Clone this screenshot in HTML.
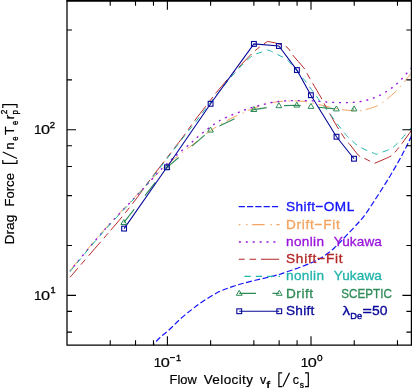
<!DOCTYPE html>
<html><head><meta charset="utf-8"><title>Drag Force vs Flow Velocity</title>
<style>
html,body{margin:0;padding:0;background:#fff;}
body{width:412px;height:388px;overflow:hidden;}
svg{display:block;will-change:transform;}
text{font-family:"Liberation Sans",sans-serif;}
</style></head><body>
<svg width="412" height="388" viewBox="0 0 412 388">
<rect x="0" y="0" width="412" height="388" fill="#ffffff"/>
<defs><clipPath id="pc"><rect x="67" y="0.8" width="345" height="344.4"/></clipPath></defs>
<g clip-path="url(#pc)" fill="none" stroke-linecap="butt" stroke-linejoin="round">
<path d="M153.3 345 C154.33 343.83 156.93 340.47 159.5 338 C162.07 335.53 165.23 333.37 168.7 330.2 C172.17 327.03 176.47 322.43 180.3 319 C184.13 315.57 188.08 312.43 191.7 309.6 C195.32 306.77 197.7 304.85 202 302 C206.3 299.15 212.33 295.1 217.5 292.5 C222.67 289.9 227.58 288.22 233 286.4 C238.42 284.58 243 283.4 250 281.6 C257 279.8 268.83 277.23 275 275.6 C281.17 273.97 282.83 273.18 287 271.8 C291.17 270.42 295.75 268.88 300 267.3 C304.25 265.72 308.92 263.88 312.5 262.3 C316.08 260.72 317.92 260.15 321.5 257.8 C325.08 255.45 329.83 251.93 334 248.2 C338.17 244.47 342.33 239.77 346.5 235.4 C350.67 231.03 355.88 225.48 359 222 C362.12 218.52 362.33 218.58 365.25 214.5 C368.17 210.42 372.54 203.62 376.5 197.5 C380.46 191.38 385.25 183.95 389 177.8 C392.75 171.65 396.33 165.33 399 160.6 C401.67 155.87 403.33 152.63 405 149.4 C406.67 146.17 408 143.22 409 141.2 C410 139.18 410.33 138.6 411 137.3 C411.67 136 412.67 134.05 413 133.4" stroke="#1414ff" stroke-width="1.2" stroke-dasharray="5.87 2.53" stroke-dashoffset="3.79"/>
<path d="M70 270.4 C75.63 263.7 91.65 243.85 103.8 230.2 C115.95 216.55 134.77 197.17 142.9 188.5 C151.03 179.83 149.93 180.95 152.6 178.2 C155.27 175.45 155.85 174.78 158.9 172 C161.95 169.22 167.85 164.07 170.9 161.5 C173.95 158.93 175.4 158.03 177.2 156.6 C179 155.17 180.02 154.23 181.7 152.9 C183.38 151.57 185.58 149.88 187.3 148.6 C189.02 147.32 188.13 148.2 192 145.2 C195.87 142.2 204.17 134.97 210.5 130.6 C216.83 126.23 224.7 121.87 230 119 C235.3 116.13 239.33 114.8 242.3 113.4 C245.27 112 245.03 111.78 247.8 110.6 C250.57 109.42 255.15 107.58 258.9 106.3 C262.65 105.02 266.4 103.73 270.3 102.9 C274.2 102.07 279.25 101.62 282.3 101.3 C285.35 100.98 285.75 101.03 288.6 101 C291.45 100.97 296.35 100.95 299.4 101.1 C302.45 101.25 303.75 101.35 306.9 101.9 C310.05 102.45 314.5 103.53 318.3 104.4 C322.1 105.27 325.83 106.25 329.7 107.1 C333.57 107.95 337.53 108.88 341.5 109.5 C345.47 110.12 350.42 110.58 353.5 110.8 C356.58 111.02 358 111 360 110.8 C362 110.6 362.67 110.4 365.5 109.6 C368.33 108.8 374.23 107.12 377 106 C379.77 104.88 380.48 104 382.1 102.9 C383.72 101.8 384.38 101.33 386.7 99.4 C389.02 97.47 393.75 93.42 396 91.3 C398.25 89.18 398.82 88.28 400.2 86.7 C401.58 85.12 402.7 83.75 404.3 81.8 C405.9 79.85 408.68 76.38 409.8 75 C410.92 73.62 410.8 73.75 411 73.5" stroke="#f4a460" stroke-width="1" stroke-dasharray="12.39 5.55 1.39 4.76" stroke-dashoffset="23.58"/>
<path d="M70 271 C75.63 264.28 91.65 244.37 103.8 230.7 C115.95 217.03 134.87 197.58 142.9 189 C150.93 180.42 149.02 182.43 152 179.2 C154.98 175.97 157.53 172.9 160.8 169.6 C164.07 166.3 168.97 161.83 171.6 159.4 C174.23 156.97 174.92 156.43 176.6 155 C178.28 153.57 179.97 152.23 181.7 150.8 C183.43 149.37 185.32 147.83 187 146.4 C188.68 144.97 189.22 144.43 191.8 142.2 C194.38 139.97 197.8 136.62 202.5 133 C207.2 129.38 213.96 123.95 220 120.5 C226.04 117.05 234.62 114.07 238.75 112.3 C242.88 110.53 242.66 110.67 244.8 109.9 C246.94 109.13 249.38 108.38 251.6 107.7 C253.82 107.02 255.93 106.4 258.1 105.8 C260.27 105.2 262.35 104.65 264.6 104.1 C266.85 103.55 269.28 102.93 271.6 102.5 C273.92 102.07 276.25 101.77 278.5 101.5 C280.75 101.23 282.88 101.05 285.1 100.9 C287.32 100.75 287.22 100.62 291.8 100.6 C296.38 100.58 307.97 100.67 312.6 100.8 C317.23 100.93 317.28 101.2 319.6 101.4 C321.92 101.6 324.18 101.83 326.5 102 C328.82 102.17 331.3 102.3 333.5 102.4 C335.7 102.5 337.5 102.57 339.7 102.6 C341.9 102.63 344.4 102.65 346.7 102.6 C349 102.55 351.2 102.48 353.5 102.3 C355.8 102.12 358.18 101.88 360.5 101.5 C362.82 101.12 365.18 100.6 367.4 100 C369.62 99.4 371.65 98.72 373.8 97.9 C375.95 97.08 378.23 96.13 380.3 95.1 C382.37 94.07 384.27 92.9 386.2 91.7 C388.13 90.5 390.12 89.23 391.9 87.9 C393.68 86.57 395.23 85.22 396.9 83.7 C398.57 82.18 400.3 80.48 401.9 78.8 C403.5 77.12 405.18 75.1 406.5 73.6 C407.82 72.1 409.05 70.67 409.8 69.8 C410.55 68.93 410.8 68.63 411 68.4" stroke="#9a14dc" stroke-width="1.35" stroke-dasharray="1.99 4.88" stroke-dashoffset="1.05"/>
<path d="M70 277.3 C76.27 270.05 100.7 241.78 107.6 233.8 C114.5 225.82 108.98 232.23 111.4 229.4 C113.82 226.57 117.68 222.27 122.1 216.8 C126.52 211.33 133.65 202.23 137.9 196.6 C142.15 190.97 143.25 188.83 147.6 183 C151.95 177.17 158.12 169.27 164 161.6 C169.88 153.93 177.72 143.93 182.9 137 C188.08 130.07 191.38 125 195.1 120 C198.82 115 202.37 110.67 205.2 107 C208.03 103.33 210.2 100.47 212.1 98 C214 95.53 213.33 96.1 216.6 92.2 C219.87 88.3 228 78.77 231.7 74.6 C235.4 70.43 235.72 70.42 238.8 67.2 C241.88 63.98 247.47 58.07 250.2 55.3 C252.93 52.53 253.63 51.98 255.2 50.6 C256.77 49.22 258.17 48.12 259.6 47 C261.03 45.88 262.47 44.83 263.8 43.9 C265.13 42.97 266.97 41.82 267.6 41.4 C269.12 41.72 273.72 42.5 276.7 43.3 C279.68 44.1 283.37 45.07 285.5 46.2 C287.63 47.33 288.32 48.65 289.5 50.1 C290.68 51.55 290.23 51.95 292.6 54.9 C294.97 57.85 301.38 64.87 303.7 67.8 C306.02 70.73 305.5 70.77 306.5 72.5 C307.5 74.23 308.68 76.42 309.7 78.2 C310.72 79.98 310.7 79.95 312.6 83.2 C314.5 86.45 319.3 94.52 321.1 97.7 C322.9 100.88 322.6 100.78 323.4 102.3 C324.2 103.82 324.85 104.92 325.9 106.8 C326.95 108.68 327.82 110.28 329.7 113.6 C331.58 116.92 334.4 122.13 337.2 126.7 C340 131.27 344.37 138.02 346.5 141 C348.63 143.98 348.03 142.25 350 144.6 C351.97 146.95 356.05 152.9 358.3 155.1 C360.55 157.3 361.62 156.82 363.5 157.8 C365.38 158.78 367.8 160.07 369.6 161 C371.4 161.93 373.52 163 374.3 163.4 C376.9 162.27 386.55 158.37 389.9 156.6 C393.25 154.83 393.15 154.02 394.4 152.8 C395.65 151.58 396.27 150.67 397.4 149.3 C398.53 147.93 398.93 147.65 401.2 144.6 C403.47 141.55 409.03 133.73 411 131 C412.97 128.27 412.67 128.67 413 128.2" stroke="#b42626" stroke-width="1" stroke-dasharray="18.19 4.99 6.44 4.99" stroke-dashoffset="6.1"/>
<path d="M70 271.6 C75.63 264.88 91.65 245.02 103.8 231.3 C115.95 217.58 135.6 197.25 142.9 189.3 C150.2 181.35 144.08 188.05 147.6 183.6 C151.12 179.15 158.12 170.2 164 162.6 C169.88 155 177.5 144.93 182.9 138 C188.3 131.07 192.9 125.5 196.4 121 C199.9 116.5 200.33 115.62 203.9 111 C207.47 106.38 213.68 98.47 217.8 93.3 C221.92 88.13 225.1 84.15 228.6 80 C232.1 75.85 235.2 72.17 238.8 68.4 C242.4 64.63 247.37 59.8 250.2 57.4 C253.03 55 253.92 54.87 255.8 54 C257.68 53.13 259.67 52.92 261.5 52.2 C263.33 51.48 265.92 50.12 266.8 49.7 C267.6 49.98 269.85 50.62 271.6 51.4 C273.35 52.18 275.52 53.48 277.3 54.4 C279.08 55.32 280.68 56.02 282.3 56.9 C283.92 57.78 285.6 58.58 287 59.7 C288.4 60.82 288.18 60.68 290.7 63.6 C293.22 66.52 299.67 74.3 302.1 77.2 C304.53 80.1 304.18 79.58 305.3 81 C306.42 82.42 307.78 84.28 308.8 85.7 C309.82 87.12 310.23 87.92 311.4 89.5 C312.57 91.08 314.43 93.32 315.8 95.2 C317.17 97.08 318.13 98.8 319.6 100.8 C321.07 102.8 323.45 105.73 324.6 107.2 C325.75 108.67 325.23 107.98 326.5 109.6 C327.77 111.22 330.52 114.68 332.2 116.9 C333.88 119.12 334.22 119.82 336.6 122.9 C338.98 125.98 344.02 132.52 346.5 135.4 C348.98 138.28 349.92 138.7 351.5 140.2 C353.08 141.7 354.5 143.2 356 144.4 C357.5 145.6 358.87 146.48 360.5 147.4 C362.13 148.32 364.03 149.12 365.8 149.9 C367.57 150.68 369.35 151.35 371.1 152.1 C372.85 152.85 375.43 154.02 376.3 154.4 C377.07 154.1 379.02 153.3 380.9 152.6 C382.78 151.9 385.73 150.97 387.6 150.2 C389.47 149.43 390.47 149.15 392.1 148 C393.73 146.85 395.88 144.75 397.4 143.3 C398.92 141.85 399.82 140.85 401.2 139.3 C402.58 137.75 404.45 135.42 405.7 134 C406.95 132.58 407.82 131.8 408.7 130.8 C409.58 129.8 410.28 128.87 411 128 C411.72 127.13 412.67 126 413 125.6" stroke="#22b4ac" stroke-width="1" stroke-dasharray="6.26 5.27" stroke-dashoffset="0.43"/>
<path d="M123.8 222.6 L167.1 167.4 L210.5 130.2 L253.9 109.6 L278.9 105.8 L296.8 105.2 L311 106.5 L336.4 109 L354.1 109" stroke="#2e8b57" stroke-width="1.1" stroke-dasharray="16.8 17.5"/>
<path d="M124.1 228.6 L166.9 167.3 L210.6 103.8 L253.9 43.9 L278.9 46 L296.9 70.05 L310.9 95.2 L336.5 136.75 L354 158.75" stroke="#08089a" stroke-width="1.1"/>
</g>
<path d="M123.8 219.5 L126.7 224.5 L120.9 224.5 Z" fill="none" stroke="#2e8b57" stroke-width="1"/>
<path d="M167.1 164.3 L170 169.3 L164.2 169.3 Z" fill="none" stroke="#2e8b57" stroke-width="1"/>
<path d="M210.5 127.1 L213.4 132.1 L207.6 132.1 Z" fill="none" stroke="#2e8b57" stroke-width="1"/>
<path d="M253.9 106.5 L256.8 111.5 L251 111.5 Z" fill="none" stroke="#2e8b57" stroke-width="1"/>
<path d="M278.9 102.7 L281.8 107.7 L276 107.7 Z" fill="none" stroke="#2e8b57" stroke-width="1"/>
<path d="M296.8 102.1 L299.7 107.1 L293.9 107.1 Z" fill="none" stroke="#2e8b57" stroke-width="1"/>
<path d="M311 103.4 L313.9 108.4 L308.1 108.4 Z" fill="none" stroke="#2e8b57" stroke-width="1"/>
<path d="M336.4 105.9 L339.3 110.9 L333.5 110.9 Z" fill="none" stroke="#2e8b57" stroke-width="1"/>
<path d="M354.1 105.9 L357 110.9 L351.2 110.9 Z" fill="none" stroke="#2e8b57" stroke-width="1"/>
<rect x="121.7" y="226.2" width="4.8" height="4.8" fill="none" stroke="#08089a" stroke-width="1.1"/>
<rect x="164.5" y="164.9" width="4.8" height="4.8" fill="none" stroke="#08089a" stroke-width="1.1"/>
<rect x="208.2" y="101.4" width="4.8" height="4.8" fill="none" stroke="#08089a" stroke-width="1.1"/>
<rect x="251.5" y="41.5" width="4.8" height="4.8" fill="none" stroke="#08089a" stroke-width="1.1"/>
<rect x="276.5" y="43.6" width="4.8" height="4.8" fill="none" stroke="#08089a" stroke-width="1.1"/>
<rect x="294.5" y="67.65" width="4.8" height="4.8" fill="none" stroke="#08089a" stroke-width="1.1"/>
<rect x="308.5" y="92.8" width="4.8" height="4.8" fill="none" stroke="#08089a" stroke-width="1.1"/>
<rect x="334.1" y="134.35" width="4.8" height="4.8" fill="none" stroke="#08089a" stroke-width="1.1"/>
<rect x="351.6" y="156.35" width="4.8" height="4.8" fill="none" stroke="#08089a" stroke-width="1.1"/>
<g stroke="#000" stroke-width="1.2" fill="none" stroke-linecap="butt">
<path d="M67 0.4 V345.2 H411.4 V0.4" stroke-width="1.25"/>
<path d="M66.4 0.8 H412" stroke-width="1.7"/>
<path d="M110.23 345.2 v-5 M110.23 0.8 v5 M135.52 345.2 v-5 M135.52 0.8 v5 M153.47 345.2 v-5 M153.47 0.8 v5 M167.39 345.2 v-9 M167.39 0.8 v9 M210.62 345.2 v-5 M210.62 0.8 v5 M253.85 345.2 v-5 M253.85 0.8 v5 M279.14 345.2 v-5 M279.14 0.8 v5 M297.09 345.2 v-5 M297.09 0.8 v5 M311.01 345.2 v-9 M311.01 0.8 v9 M354.24 345.2 v-5 M354.24 0.8 v5 M397.47 345.2 v-5 M397.47 0.8 v5 M67 332.08 h5 M411.4 332.08 h-5 M67 311.39 h5 M411.4 311.39 h-5 M67 295.34 h9 M411.4 295.34 h-9 M67 245.47 h5 M411.4 245.47 h-5 M67 195.61 h5 M411.4 195.61 h-5 M67 166.44 h5 M411.4 166.44 h-5 M67 145.75 h5 M411.4 145.75 h-5 M67 129.7 h9 M411.4 129.7 h-9 M67 79.83 h5 M411.4 79.83 h-5 M67 29.97 h5 M411.4 29.97 h-5" stroke-width="1.1"/>
</g>
<text x="153.7" y="366.9" font-size="13.5" fill="#000" text-anchor="start" stroke="#000" stroke-width="0.2">1</text>
<text x="160.7" y="366.9" font-size="13.5" fill="#000" text-anchor="start" textLength="9.05" lengthAdjust="spacingAndGlyphs" stroke="#000" stroke-width="0.2">0</text>
<path d="M170 357.6 h4.9" stroke="#000" stroke-width="1.1" fill="none"/>
<text x="175.9" y="360.7" font-size="9.2" fill="#000" text-anchor="start" stroke="#000" stroke-width="0.35">1</text>
<text x="300.7" y="366.9" font-size="13.5" fill="#000" text-anchor="start" stroke="#000" stroke-width="0.2">1</text>
<text x="307.7" y="366.9" font-size="13.5" fill="#000" text-anchor="start" textLength="9.05" lengthAdjust="spacingAndGlyphs" stroke="#000" stroke-width="0.2">0</text>
<text x="317.1" y="360.7" font-size="9.2" fill="#000" text-anchor="start" textLength="5.6" lengthAdjust="spacingAndGlyphs" stroke="#000" stroke-width="0.35">0</text>
<text x="33.9" y="133.8" font-size="13.5" fill="#000" text-anchor="start" stroke="#000" stroke-width="0.2">1</text>
<text x="40.9" y="133.8" font-size="13.5" fill="#000" text-anchor="start" textLength="9.05" lengthAdjust="spacingAndGlyphs" stroke="#000" stroke-width="0.2">0</text>
<text x="49.8" y="127.6" font-size="9.2" fill="#000" text-anchor="start" textLength="5.3" lengthAdjust="spacingAndGlyphs" stroke="#000" stroke-width="0.35">2</text>
<text x="33.9" y="299.5" font-size="13.5" fill="#000" text-anchor="start" stroke="#000" stroke-width="0.2">1</text>
<text x="40.9" y="299.5" font-size="13.5" fill="#000" text-anchor="start" textLength="9.05" lengthAdjust="spacingAndGlyphs" stroke="#000" stroke-width="0.2">0</text>
<text x="50.4" y="293.3" font-size="9.2" fill="#000" text-anchor="start" stroke="#000" stroke-width="0.35">1</text>
<text x="169.6" y="383.7" font-size="13.5" fill="#000" text-anchor="start" textLength="27.2" lengthAdjust="spacingAndGlyphs" stroke="#000" stroke-width="0.2">Flow</text>
<text x="203.7" y="383.7" font-size="13.5" fill="#000" text-anchor="start" textLength="49.3" lengthAdjust="spacing" stroke="#000" stroke-width="0.2">Velocity</text>
<text x="259.9" y="383.7" font-size="13.5" fill="#000" text-anchor="start" textLength="6.2" lengthAdjust="spacingAndGlyphs" stroke="#000" stroke-width="0.2">v</text>
<text x="266.4" y="388.2" font-size="8.8" fill="#000" text-anchor="start" textLength="3.6" lengthAdjust="spacingAndGlyphs" stroke="#000" stroke-width="0.35">f</text>
<text x="292.8" y="383.7" font-size="13.5" fill="#000" text-anchor="start" textLength="6.2" lengthAdjust="spacingAndGlyphs" stroke="#000" stroke-width="0.2">c</text>
<text x="299.7" y="388.2" font-size="8.8" fill="#000" text-anchor="start" textLength="4.2" lengthAdjust="spacingAndGlyphs" stroke="#000" stroke-width="0.35">s</text>
<path d="M282.2 372.8 h-3.3 v13.8 h3.3 M282.9 386.6 L289.5 372.8 M305 372.8 h3.3 v13.8 h-3.3" fill="none" stroke="#000" stroke-width="1.2"/>
<g transform="translate(13.7 244.6) rotate(-90)">
<text x="0" y="0" font-size="13.5" fill="#000" text-anchor="start" textLength="30" lengthAdjust="spacingAndGlyphs" stroke="#000" stroke-width="0.2">Drag</text>
<text x="38" y="0" font-size="13.5" fill="#000" text-anchor="start" textLength="33.6" lengthAdjust="spacingAndGlyphs" stroke="#000" stroke-width="0.2">Force</text>
<text x="95.2" y="0" font-size="13.5" fill="#000" text-anchor="start" textLength="7" lengthAdjust="spacingAndGlyphs" stroke="#000" stroke-width="0.2">n</text>
<text x="103.9" y="4.5" font-size="8.8" fill="#000" text-anchor="start" textLength="4.2" lengthAdjust="spacingAndGlyphs" stroke="#000" stroke-width="0.35">e</text>
<text x="109.5" y="0" font-size="13.5" fill="#000" text-anchor="start" textLength="8.6" lengthAdjust="spacingAndGlyphs" stroke="#000" stroke-width="0.2">T</text>
<text x="119.7" y="4.5" font-size="8.8" fill="#000" text-anchor="start" textLength="4.2" lengthAdjust="spacingAndGlyphs" stroke="#000" stroke-width="0.35">e</text>
<text x="125.2" y="0" font-size="13.5" fill="#000" text-anchor="start" textLength="5" lengthAdjust="spacingAndGlyphs" stroke="#000" stroke-width="0.2">r</text>
<text x="130" y="4.7" font-size="8.8" fill="#000" text-anchor="start" textLength="4.4" lengthAdjust="spacingAndGlyphs" stroke="#000" stroke-width="0.35">p</text>
<text x="130.4" y="-6.6" font-size="9" fill="#000" text-anchor="start" textLength="4.6" lengthAdjust="spacingAndGlyphs" stroke="#000" stroke-width="0.35">2</text>
<path d="M84.5 -10.9 h-3.3 v14.2 h3.3 M86.1 3.3 L92.6 -10.9 M136.7 -10.9 h3.3 v14.2 h-3.3" fill="none" stroke="#000" stroke-width="1.2"/>
</g>
<g fill="none" stroke-linecap="butt">
<path d="M238.7 206.6 H278.3" stroke="#1414ff" stroke-width="1.3" stroke-dasharray="6.2 2.1" stroke-dashoffset="0"/>
<path d="M238.8 224.6 H279.6" stroke="#f4a460" stroke-width="1.1" stroke-dasharray="12.5 5.8 1.4 4.6" stroke-dashoffset="11.0"/>
<path d="M238.9 241.9 H276" stroke="#9a14dc" stroke-width="1.5" stroke-dasharray="2 4.9"/>
<path d="M238.8 259.3 H279.1" stroke="#b42626" stroke-width="1.1" stroke-dasharray="5.9 4.8 6.6 4.8 18.2 5"/>
<path d="M244.4 276.4 H280" stroke="#22b4ac" stroke-width="1.1" stroke-dasharray="6.3 5.1"/>
<path d="M239.25 293.4 H279.25" stroke="#2e8b57" stroke-width="1.1" stroke-dasharray="16.8 16.4"/>
<path d="M239.25 311.25 H279.25" stroke="#08089a" stroke-width="1.2"/>
</g>
<path d="M239.25 290.3 L242.15 295.3 L236.35 295.3 Z" fill="none" stroke="#2e8b57" stroke-width="1"/>
<path d="M279.25 290.3 L282.15 295.3 L276.35 295.3 Z" fill="none" stroke="#2e8b57" stroke-width="1"/>
<rect x="236.85" y="308.85" width="4.8" height="4.8" fill="none" stroke="#08089a" stroke-width="1.1"/>
<rect x="276.85" y="308.85" width="4.8" height="4.8" fill="none" stroke="#08089a" stroke-width="1.1"/>
<text x="286" y="211.3" font-size="13.6" fill="#1414ff" text-anchor="start" textLength="68.2" lengthAdjust="spacing" stroke="#1414ff" stroke-width="0.32">Shift−OML</text>
<text x="286" y="228.7" font-size="13.6" fill="#f4a460" text-anchor="start" textLength="53.8" lengthAdjust="spacing" stroke="#f4a460" stroke-width="0.32">Drift−Fit</text>
<text x="286" y="246" font-size="13.6" fill="#9a14dc" text-anchor="start" textLength="38" lengthAdjust="spacing" stroke="#9a14dc" stroke-width="0.32">nonlin</text>
<text x="333.7" y="246" font-size="13.6" fill="#9a14dc" text-anchor="start" textLength="48.2" lengthAdjust="spacing" stroke="#9a14dc" stroke-width="0.32">Yukawa</text>
<text x="286" y="263.4" font-size="13.6" fill="#b42626" text-anchor="start" textLength="56.6" lengthAdjust="spacing" stroke="#b42626" stroke-width="0.32">Shift−Fit</text>
<text x="286" y="280.4" font-size="13.6" fill="#22b4ac" text-anchor="start" textLength="38" lengthAdjust="spacing" stroke="#22b4ac" stroke-width="0.32">nonlin</text>
<text x="333.7" y="280.4" font-size="13.6" fill="#22b4ac" text-anchor="start" textLength="48.2" lengthAdjust="spacing" stroke="#22b4ac" stroke-width="0.32">Yukawa</text>
<text x="286" y="297.5" font-size="13.6" fill="#2e8b57" text-anchor="start" textLength="27" lengthAdjust="spacing" stroke="#2e8b57" stroke-width="0.32">Drift</text>
<text x="341.3" y="297.5" font-size="13.6" fill="#2e8b57" text-anchor="start" textLength="50.6" lengthAdjust="spacingAndGlyphs" stroke="#2e8b57" stroke-width="0.32">SCEPTIC</text>
<text x="286" y="314.9" font-size="13.6" fill="#08089a" text-anchor="start" textLength="28.3" lengthAdjust="spacing" stroke="#08089a" stroke-width="0.32">Shift</text>
<text x="342.6" y="314.9" font-size="13.6" fill="#08089a" text-anchor="start" textLength="7.6" lengthAdjust="spacingAndGlyphs" stroke="#08089a" stroke-width="0.32">λ</text>
<text x="350.3" y="318.9" font-size="9" fill="#08089a" text-anchor="start" textLength="11.8" lengthAdjust="spacingAndGlyphs" stroke="#08089a" stroke-width="0.4">De</text>
<text x="362.4" y="314.9" font-size="13.6" fill="#08089a" text-anchor="start" textLength="9.4" lengthAdjust="spacingAndGlyphs" stroke="#08089a" stroke-width="0.32">=</text>
<text x="372.1" y="314.9" font-size="13.6" fill="#08089a" text-anchor="start" textLength="15.5" lengthAdjust="spacingAndGlyphs" stroke="#08089a" stroke-width="0.32">50</text>
</svg>
</body></html>
